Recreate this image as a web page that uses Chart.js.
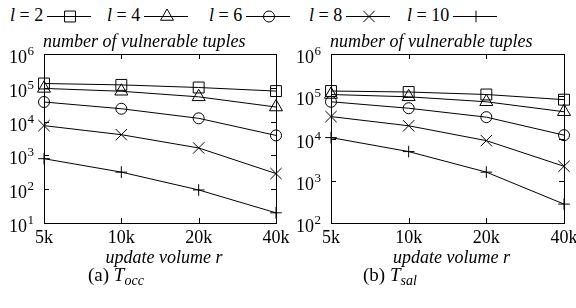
<!DOCTYPE html>
<html>
<head>
<meta charset="utf-8">
<script src="https://cdn.jsdelivr.net/npm/chart.js@4.4.1/dist/chart.umd.min.js"></script>
<style>
  body { margin: 0; background: #fff; font-family: "Liberation Serif", serif; color: #000; }
  #wrap { position: relative; width: 576px; height: 308px; overflow: hidden; }
  .chart { position: absolute; top: 25px; }
  .leg { position: absolute; top: 4px; font-size: 18px; line-height: 22px; white-space: nowrap; }
  .legsym { position: absolute; top: 5px; }
  .cap { position: absolute; top: 264px; font-size: 19px; white-space: nowrap; }
  .cap sub { font-size: 14px; vertical-align: -4px; }
</style>
</head>
<body>
<div id="wrap">
  <div id="legend"></div>
  <canvas id="occChart" class="chart" width="300" height="246" style="left:0"></canvas>
  <canvas id="salChart" class="chart" width="288" height="246" style="left:288px"></canvas>
  <div class="cap" style="left:88px">(a) <i>T</i><sub><i>occ</i></sub></div>
  <div class="cap" style="left:363px">(b) <i>T</i><sub><i>sal</i></sub></div>
</div>
<script>
const categories = ["5k", "10k", "20k", "40k"];
const levels = ["2", "4", "6", "8", "10"];

// T_occ
const occL2 = [134000, 122000, 102000, 80000];
const occL4 = [96000, 79000, 54000, 27000];
const occL6 = [38000, 24000, 12500, 3900];
const occL8 = [7600, 4100, 1660, 290];
const occL10 = [800, 320, 95, 20];

// T_sal
const salL2 = [133000, 126000, 110000, 83000];
const salL4 = [110000, 97000, 74000, 43000];
const salL6 = [74000, 52000, 32000, 12000];
const salL8 = [33000, 20000, 8900, 2200];
const salL10 = [10500, 4900, 1600, 280];

const markers = ["rect", "triangle", "circle", "crossRot", "cross"];
const markerSize = [7.7, 7.5, 5.5, 8, 5.8];

const serif = "'Liberation Serif', serif";

// box with inward ticks, tick labels (10^n) and the italic titles
const framePlugin = {
    id: "frame",
    afterDatasetsDraw(chart) {
        const ctx = chart.ctx;
        const a = chart.chartArea;
        const xs = chart.scales.x, ys = chart.scales.y;
        ctx.save();
        ctx.strokeStyle = "#000";
        ctx.lineWidth = 1;
        ctx.strokeRect(Math.round(a.left) + 0.5, Math.round(a.top) + 0.5,
            Math.round(a.right - a.left), Math.round(a.bottom - a.top));
        ctx.beginPath();
        ys.ticks.forEach(t => {
            const y = Math.round(ys.getPixelForValue(t.value)) + 0.5;
            ctx.moveTo(a.left, y); ctx.lineTo(a.left + 5, y);
            ctx.moveTo(a.right, y); ctx.lineTo(a.right - 5, y);
        });
        categories.forEach((c, i) => {
            const x = Math.round(xs.getPixelForValue(i)) + 0.5;
            ctx.moveTo(x, a.bottom); ctx.lineTo(x, a.bottom - 5);
            ctx.moveTo(x, a.top); ctx.lineTo(x, a.top + 5);
        });
        ctx.stroke();

        ctx.fillStyle = "#000";
        ctx.textBaseline = "alphabetic";
        ys.ticks.forEach(t => {
            const y = ys.getPixelForValue(t.value);
            const exp = String(Math.round(Math.log10(t.value)));
            ctx.font = "13px " + serif;
            const ew = ctx.measureText(exp).width;
            const ex = a.left - 10 - ew;
            ctx.textAlign = "left";
            ctx.fillText(exp, ex, y + 1);
            ctx.font = "18px " + serif;
            ctx.textAlign = "right";
            ctx.fillText("10", ex - 0.5, y + 9);
        });

        ctx.font = "18px " + serif;
        ctx.textAlign = "center";
        categories.forEach((c, i) => {
            ctx.fillText(c, xs.getPixelForValue(i), a.bottom + 20);
        });

        ctx.font = "italic 18px " + serif;
        ctx.fillText("update volume r", (a.left + a.right) / 2 + 4, a.bottom + 40);
        ctx.textAlign = "left";
        ctx.fillText("number of vulnerable tuples", a.left - 1, a.top - 7);
        ctx.restore();
    }
};

function makeChart(id, series, yMin, yAxisWidth, rightPad) {
    const datasets = series.map((vals, i) => ({
        label: "l = " + levels[i],
        data: vals,
        borderColor: "#000",
        borderWidth: 1,
        backgroundColor: "transparent",
        pointStyle: markers[i],
        pointRadius: markerSize[i],
        pointBorderColor: "#000",
        pointBorderWidth: 1,
        pointBackgroundColor: "transparent",
        tension: 0
    }));
    return new Chart(document.getElementById(id), {
        type: "line",
        data: { labels: categories, datasets: datasets },
        options: {
            responsive: false,
            animation: false,
            layout: { padding: { top: 29, right: rightPad, left: 0, bottom: 0 } },
            plugins: { legend: { display: false }, tooltip: { enabled: false } },
            scales: {
                x: {
                    offset: false,
                    grid: { display: false, drawTicks: false },
                    border: { display: false },
                    ticks: { display: false },
                    afterFit(s) { s.height = 48; }
                },
                y: {
                    type: "logarithmic",
                    min: yMin,
                    max: 1e6,
                    grid: { display: false, drawTicks: false },
                    border: { display: false },
                    afterBuildTicks(s) {
                        s.ticks = s.ticks.filter(t => Math.abs(Math.log10(t.value) - Math.round(Math.log10(t.value))) < 1e-9);
                    },
                    ticks: { display: false },
                    afterFit(s) { s.width = yAxisWidth; }
                }
            }
        },
        plugins: [framePlugin]
    });
}

function drawLegend() {
    const legendX = [10, 107, 209, 309, 407];
    const legend = document.getElementById("legend");
    levels.forEach((lv, i) => {
        const lab = document.createElement("div");
        lab.className = "leg";
        lab.style.left = legendX[i] + "px";
        lab.innerHTML = "<i>l</i> = " + lv;
        legend.appendChild(lab);
        const c = document.createElement("canvas");
        c.className = "legsym";
        c.width = 44; c.height = 22;
        legend.appendChild(c);
        const w = lab.getBoundingClientRect().width;
        c.style.left = (legendX[i] + w + 4) + "px";
        const ctx = c.getContext("2d");
        ctx.strokeStyle = "#000";
        ctx.fillStyle = "transparent";
        ctx.lineWidth = 1;
        ctx.beginPath();
        ctx.moveTo(0, 11.5); ctx.lineTo(44, 11.5);
        ctx.stroke();
        Chart.helpers.drawPoint(ctx, { pointStyle: markers[i], radius: markerSize[i], borderWidth: 1, rotation: 0 }, 23, 11.5);
    });
}

document.body.offsetWidth; // force a layout so the serif font is resolved first
makeChart("occChart", [occL2, occL4, occL6, occL8, occL10], 10, 44, 24);
makeChart("salChart", [salL2, salL4, salL6, salL8, salL10], 100, 43, 12);
drawLegend();
</script>
</body>
</html>
